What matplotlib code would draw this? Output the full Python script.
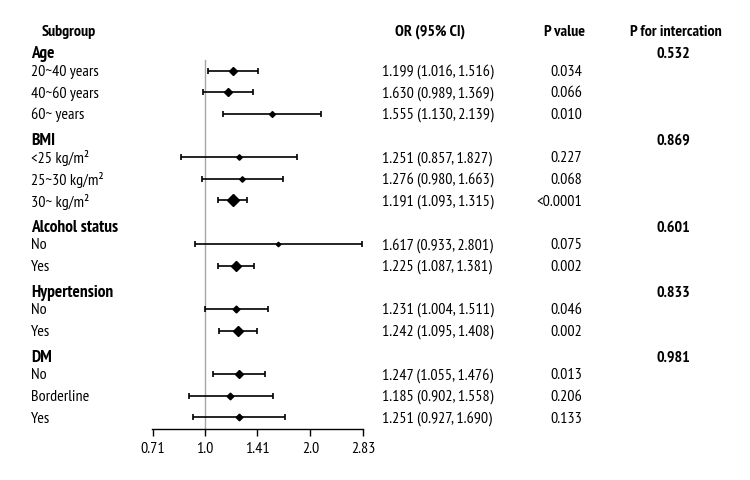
import matplotlib
matplotlib.use("Agg")
import matplotlib.pyplot as plt
import matplotlib.transforms as mtransforms
from matplotlib import font_manager

# a condensed humanist face, close to the original look
names = {f.name for f in font_manager.fontManager.ttflist}
wanted = ['PT Sans Narrow', 'Asap Condensed', 'Fira Sans Condensed', 'Archivo Narrow', 'Barlow Semi Condensed']
chosen = [n for n in wanted if n in names][:1]
plt.rcParams['font.family'] = chosen + ['DejaVu Sans']

groups = ['Age', 'BMI', 'Alcohol status', 'Hypertension', 'DM']
subgroups = [
    ['20~40 years', '40~60 years', '60~ years'],
    ['<25 kg/m²', '25~30 kg/m²', '30~ kg/m²'],
    ['No', 'Yes'],
    ['No', 'Yes'],
    ['No', 'Borderline', 'Yes'],
]
p_interaction = ['0.532', '0.869', '0.601', '0.833', '0.981']

# plotted estimates
or_est = [1.20, 1.166, 1.558, 1.25, 1.28, 1.20, 1.62, 1.225, 1.23, 1.24, 1.25, 1.18, 1.25]
ci_low = [1.02, 0.99, 1.13, 0.857, 0.98, 1.094, 0.935, 1.089, 1.0, 1.095, 1.054, 0.903, 0.928]
ci_high = [1.42, 1.37, 2.15, 1.83, 1.67, 1.32, 2.81, 1.385, 1.51, 1.41, 1.48, 1.56, 1.69]
weights = [4.3, 4.4, 3.0, 2.8, 2.8, 6.2, 2.3, 5.6, 3.5, 5.1, 4.4, 3.4, 3.4]

or_text = ['1.199 (1.016, 1.516)', '1.630 (0.989, 1.369)', '1.555 (1.130, 2.139)',
           '1.251 (0.857, 1.827)', '1.276 (0.980, 1.663)', '1.191 (1.093, 1.315)',
           '1.617 (0.933, 2.801)', '1.225 (1.087, 1.381)',
           '1.231 (1.004, 1.511)', '1.242 (1.095, 1.408)',
           '1.247 (1.055, 1.476)', '1.185 (0.902, 1.558)', '1.251 (0.927, 1.690)']
p_values = ['0.034', '0.066', '0.010', '0.227', '0.068', '<0.0001', '0.075', '0.002',
            '0.046', '0.002', '0.013', '0.206', '0.133']

xticks = [0.71, 1.0, 1.41, 2.0, 2.83]

W, H = 750, 480
fig = plt.figure(figsize=(W / 100, H / 100), dpi=100)
ax_bottom = 429
ax = fig.add_axes([152 / W, (H - ax_bottom) / H, 211.3 / W, ax_bottom / H])
ax.set_xscale('log', base=2)
ax.set_xlim(2 ** -0.5, 2 ** 1.5)
ax.set_ylim(ax_bottom, 0)

# row layout (pixel rows from the top)
header_y = []
item_y = []
y = 53
for g, subs in zip(groups, subgroups):
    header_y.append(y)
    y += 17.5
    for _ in subs:
        item_y.append(y)
        y += 21.6
    y += 26 - 21.6

fs = 11.5
dy = 1.2  # text sits a touch lower than the marks
col = mtransforms.blended_transform_factory(fig.transFigure, ax.transData)

ax.text(69 / W, 31 + dy, 'Subgroup', transform=col, ha='center', va='center', fontsize=fs, fontweight='bold')
ax.text(430 / W, 31 + dy, 'OR (95% CI)', transform=col, ha='center', va='center', fontsize=fs, fontweight='bold')
ax.text(585 / W, 31 + dy, 'P value', transform=col, ha='right', va='center', fontsize=fs, fontweight='bold')
ax.text(676 / W, 31 + dy, 'P for intercation', transform=col, ha='center', va='center', fontsize=fs, fontweight='bold')

k = 0
for gi, (g, subs) in enumerate(zip(groups, subgroups)):
    ax.text(31 / W, header_y[gi] + dy, g, transform=col, ha='left', va='center', fontsize=fs + 1, fontweight='bold')
    ax.text(673 / W, header_y[gi] + dy, p_interaction[gi], transform=col, ha='center', va='center',
            fontsize=fs, fontweight='bold')
    for s in subs:
        ax.text(31 / W, item_y[k] + dy, s, transform=col, ha='left', va='center', fontsize=fs)
        ax.text(382 / W, item_y[k] + dy, or_text[k], transform=col, ha='left', va='center', fontsize=fs)
        ax.text(582 / W, item_y[k] + dy, p_values[k], transform=col, ha='right', va='center', fontsize=fs)
        k += 1

ax.axvline(1.0, ymin=0, ymax=1 - 60 / ax_bottom, color='#a6a6a6', lw=1.0, zorder=1)

for i in range(len(or_est)):
    ax.errorbar(or_est[i], item_y[i],
                xerr=[[or_est[i] - ci_low[i]], [ci_high[i] - or_est[i]]],
                fmt='none', ecolor='black', elinewidth=1.2, capsize=2, capthick=1.2, zorder=2)
    ax.plot(or_est[i], item_y[i], marker='D', color='black', markersize=weights[i], zorder=3)

for s in ['top', 'right', 'left']:
    ax.spines[s].set_visible(False)
ax.spines['bottom'].set_linewidth(1.0)
ax.set_yticks([])
ax.set_xticks(xticks)
ax.set_xticklabels([str(t) for t in xticks], fontsize=fs)
ax.xaxis.set_minor_locator(matplotlib.ticker.NullLocator())
ax.tick_params(axis='x', direction='out', length=5, width=1.0, pad=4.5)

fig.savefig('out.png', dpi=100)
